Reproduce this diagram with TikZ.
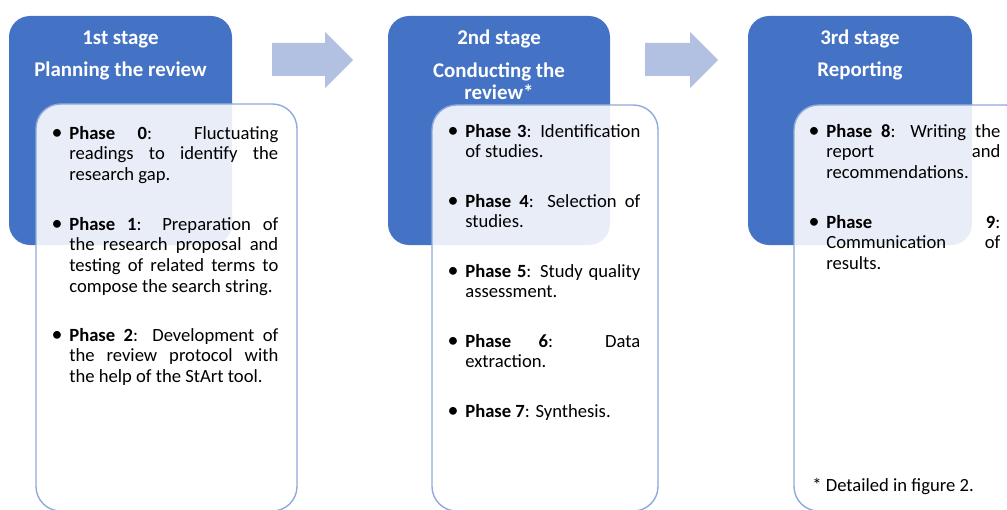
\documentclass[tikz,border=0pt]{standalone}
\usepackage{fontspec}
\setmainfont{Carlito}
\usetikzlibrary{positioning}
\definecolor{stageblue}{RGB}{68,114,196}
\definecolor{phaseline}{RGB}{143,170,220}
\definecolor{arrowblue}{RGB}{178,192,226}
\newcommand{\phasebullet}{\raisebox{-0.5pt}{\fontsize{12.5}{12.5}\selectfont\textbullet}}
\newcommand{\phaseitem}[2]{\llap{\phasebullet\hspace{3.8pt}}\textbf{Phase #1}: #2}

\begin{document}
\begin{tikzpicture}[x=0.02cm,y=-0.02cm,
  stagebox/.style={fill=stageblue,rounded corners=12pt},
  phasebox/.style={draw=phaseline,line width=0.8pt,fill=white,fill opacity=0.88,rounded corners=14pt},
  flowarrow/.style={fill=arrowblue},
  stagetitle/.style={text=white,font=\fontsize{11.9}{13}\selectfont\bfseries,inner sep=0pt,anchor=base,align=center},
  phasetext/.style={anchor=base west,inner sep=0pt,align=justify,font=\fontsize{10.6}{11.9}\selectfont}]
\clip (0,0) rectangle (1007,510);
% stages
\fill[stagebox] (9,16) rectangle (232,245);
\fill[stagebox] (388,16) rectangle (610,245);
\fill[stagebox] (748,16) rectangle (972,245);
\fill[flowarrow] (272,43) -- (325,43) -- (325,32) -- (353,60) -- (325,88) -- (325,76) -- (272,76) -- cycle;
\fill[flowarrow] (645,43) -- (690,43) -- (690,32) -- (718,60) -- (690,88) -- (690,76) -- (645,76) -- cycle;
\node[stagetitle] (num1) at (120.5,44.5) {1st stage};
\node[stagetitle] (name1) at (120.5,77) {Planning the review};
\node[stagetitle] (num2) at (499,44.5) {2nd stage};
\node[stagetitle] (name2) at (499,100) {Conducting the\\review*};
\node[stagetitle] (num3) at (860,44.5) {3rd stage};
\node[stagetitle] (name3) at (860,77) {Reporting};
% phases
\filldraw[phasebox] (36,104) rectangle (297,511);
\filldraw[phasebox] (432,105) rectangle (658,511);
\filldraw[phasebox] (794,105) rectangle (1030,511);
\begin{scope}[phasetext,text width=4.18cm]
\node (p0) at (69,139) {\phaseitem{0}{Fluctuating\linebreak readings to identify the\linebreak research gap.}};
\node (p1) at (69,230) {\phaseitem{1}{Preparation of\linebreak the research proposal and\linebreak testing of related terms to\linebreak compose the search string.}};
\node (p2) at (69,341) {\phaseitem{2}{Development of\linebreak the review protocol with\linebreak the help of the StArt tool.}};
\end{scope}
\begin{scope}[phasetext,text width=3.5cm]
\node (p3) at (465,137) {\phaseitem{3}{Identification\linebreak of studies.}};
\node (p4) at (465,207) {\phaseitem{4}{Selection of\linebreak studies.}};
\node (p5) at (465,277) {\phaseitem{5}{Study quality\linebreak assessment.}};
\node (p6) at (465,347) {\phaseitem{6}{Data\linebreak extraction.}};
\node (p7) at (465,417) {\phaseitem{7}{Synthesis.}};
\end{scope}
\begin{scope}[phasetext,text width=3.48cm]
\node (p8) at (826,137) {\phaseitem{8}{Writing the\linebreak report and\linebreak recommendations.}};
\node (p9) at (826,228) {\phaseitem{9}{\linebreak Communication of\linebreak results.}};
\end{scope}
\node[phasetext] (note) at (812,491) {* Detailed in figure 2.};
\end{tikzpicture}
\end{document}
